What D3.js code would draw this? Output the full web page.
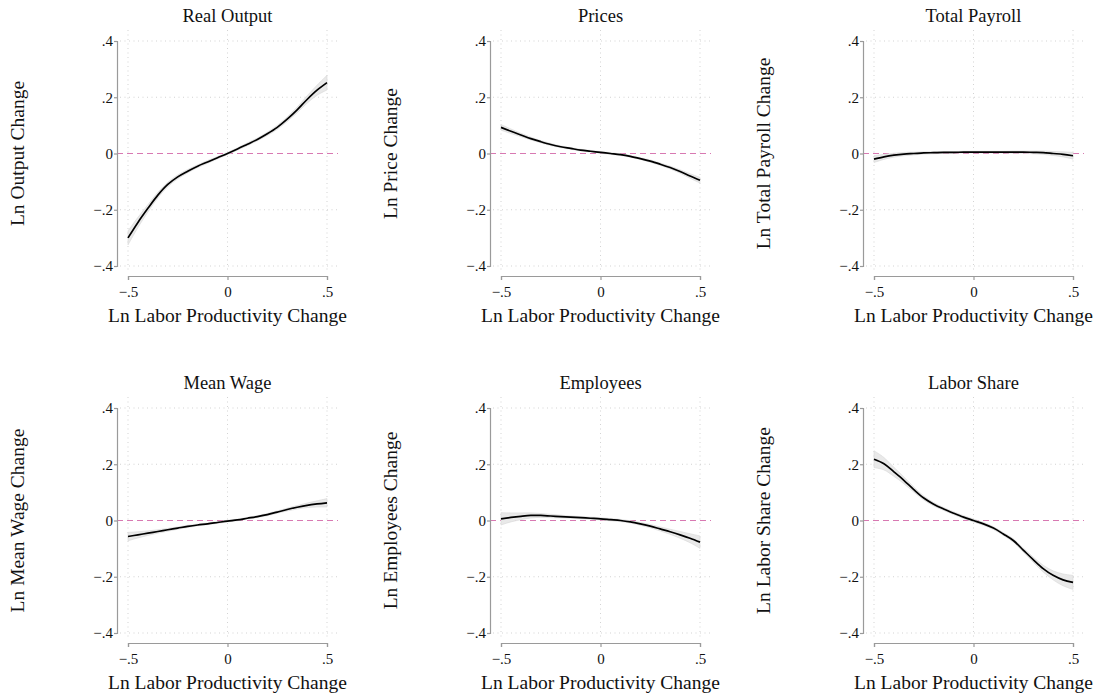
<!DOCTYPE html>
<html>
<head>
<meta charset="utf-8">
<script src="https://cdn.jsdelivr.net/npm/d3@7"></script>
<style>
  body { margin: 0; background: #fff; }
  svg text { font-family: "Liberation Serif", serif; fill: #111; }
</style>
</head>
<body>
<div id="chart"></div>
<script>
var xVals = [-0.5, -0.45, -0.4, -0.35, -0.3, -0.25, -0.2, -0.15, -0.1, -0.05, 0,
             0.05, 0.1, 0.15, 0.2, 0.25, 0.3, 0.35, 0.4, 0.45, 0.5];
var xTicks = [-0.5, 0, 0.5];
var yTicks = [-0.4, -0.2, 0, 0.2, 0.4];

var titles = ["Real Output", "Prices", "Total Payroll", "Mean Wage", "Employees", "Labor Share"];
var yLabels = ["Ln Output Change", "Ln Price Change", "Ln Total Payroll Change",
               "Ln Mean Wage Change", "Ln Employees Change", "Ln Labor Share Change"];
var xLabel = "Ln Labor Productivity Change";

// fitted values
var outputFit  = [-0.300, -0.245, -0.195, -0.148, -0.110, -0.083, -0.063, -0.045, -0.030, -0.015, 0.000,
                  0.016, 0.033, 0.050, 0.070, 0.093, 0.122, 0.155, 0.192, 0.225, 0.252];
var priceFit   = [0.093, 0.079, 0.066, 0.053, 0.042, 0.032, 0.024, 0.018, 0.012, 0.008, 0.004,
                  0.000, -0.004, -0.010, -0.018, -0.027, -0.038, -0.050, -0.064, -0.080, -0.095];
var payrollFit = [-0.020, -0.012, -0.006, -0.002, 0.000, 0.002, 0.003, 0.004, 0.004, 0.005, 0.005,
                  0.005, 0.005, 0.005, 0.005, 0.005, 0.004, 0.003, 0.000, -0.003, -0.008];
var wageFit    = [-0.057, -0.051, -0.045, -0.039, -0.033, -0.027, -0.021, -0.016, -0.012, -0.007, -0.002,
                  0.002, 0.008, 0.014, 0.021, 0.030, 0.039, 0.047, 0.054, 0.059, 0.063];
var emplFit    = [0.006, 0.011, 0.015, 0.018, 0.018, 0.016, 0.014, 0.012, 0.010, 0.008, 0.006,
                  0.003, 0.000, -0.005, -0.012, -0.020, -0.030, -0.040, -0.051, -0.063, -0.077];
var shareFit   = [0.218, 0.202, 0.173, 0.143, 0.110, 0.080, 0.058, 0.041, 0.026, 0.012, 0.000,
                  -0.012, -0.027, -0.048, -0.071, -0.105, -0.139, -0.171, -0.195, -0.211, -0.220];

// half-widths of the confidence bands
var outputCI  = [0.025, 0.018, 0.013, 0.010, 0.008, 0.007, 0.006, 0.005, 0.005, 0.004, 0.004,
                 0.004, 0.005, 0.005, 0.006, 0.007, 0.008, 0.010, 0.013, 0.018, 0.026];
var priceCI   = [0.010, 0.008, 0.006, 0.005, 0.004, 0.004, 0.003, 0.003, 0.003, 0.003, 0.003,
                 0.003, 0.003, 0.003, 0.003, 0.004, 0.004, 0.005, 0.006, 0.008, 0.010];
var payrollCI = [0.012, 0.009, 0.007, 0.006, 0.005, 0.004, 0.004, 0.003, 0.003, 0.003, 0.003,
                 0.003, 0.003, 0.003, 0.004, 0.004, 0.005, 0.006, 0.007, 0.009, 0.012];
var wageCI    = [0.015, 0.011, 0.008, 0.006, 0.005, 0.004, 0.004, 0.003, 0.003, 0.003, 0.003,
                 0.003, 0.003, 0.003, 0.004, 0.004, 0.005, 0.006, 0.008, 0.011, 0.015];
var emplCI    = [0.022, 0.016, 0.012, 0.009, 0.007, 0.006, 0.005, 0.004, 0.004, 0.004, 0.004,
                 0.004, 0.004, 0.004, 0.005, 0.006, 0.007, 0.009, 0.012, 0.016, 0.022];
var shareCI   = [0.030, 0.022, 0.016, 0.012, 0.009, 0.007, 0.006, 0.005, 0.005, 0.005, 0.005,
                 0.005, 0.005, 0.005, 0.006, 0.007, 0.009, 0.012, 0.016, 0.021, 0.025];

var fits = [outputFit, priceFit, payrollFit, wageFit, emplFit, shareFit];
var cis = [outputCI, priceCI, payrollCI, wageCI, emplCI, shareCI];

var W = 1098, H = 696;
var colX = [128, 501, 874];   // left end of x range in each column
var rowY = [41, 408];          // top of y range in each row
var pw = 199, ph = 225;

var svg = d3.select("#chart").append("svg")
    .attr("width", W)
    .attr("height", H);

function fmt(v) {
    if (v === 0) return "0";
    var s = String(Math.abs(v)).replace(/^0/, "");
    return (v < 0 ? "\u2212" : "") + s;
}

fits.forEach(function(fit, i) {
    var ci = cis[i];
    var x0 = colX[i % 3], y0 = rowY[Math.floor(i / 3)];

    var x = d3.scaleLinear().domain([-0.5, 0.5]).range([x0, x0 + pw]);
    var y = d3.scaleLinear().domain([-0.4, 0.4]).range([y0 + ph, y0]);

    var g = svg.append("g");

    // grid (zero line is drawn separately)
    g.selectAll(".hg").data(yTicks.filter(d => d !== 0)).enter().append("line")
        .attr("x1", x0 - 8).attr("x2", x0 + pw + 11)
        .attr("y1", d => y(d)).attr("y2", d => y(d))
        .attr("stroke", "#c8c8c8").attr("stroke-width", 0.8)
        .attr("stroke-dasharray", "1,3.5");
    g.selectAll(".vg").data(xTicks).enter().append("line")
        .attr("x1", d => x(d)).attr("x2", d => x(d))
        .attr("y1", y0 - 11).attr("y2", y0 + ph + 4)
        .attr("stroke", "#c8c8c8").attr("stroke-width", 0.8)
        .attr("stroke-dasharray", "1,3.5");

    // zero reference line
    g.append("line")
        .attr("x1", x0 - 11).attr("x2", x0 + pw + 11)
        .attr("y1", y(0)).attr("y2", y(0))
        .attr("stroke", "#d879b2").attr("stroke-width", 1.2)
        .attr("stroke-dasharray", "6,4");

    var pts = xVals.map((v, k) => ({x: v, y: fit[k], lo: fit[k] - ci[k], hi: fit[k] + ci[k]}));

    g.append("path").datum(pts)
        .attr("fill", "#e9e9e9")
        .attr("stroke", "#d6d6d6").attr("stroke-width", 0.6)
        .attr("d", d3.area().curve(d3.curveCatmullRom)
            .x(d => x(d.x)).y0(d => y(d.lo)).y1(d => y(d.hi)));

    g.append("path").datum(pts)
        .attr("fill", "none")
        .attr("stroke", "#000").attr("stroke-width", 1.7)
        .attr("d", d3.line().curve(d3.curveCatmullRom)
            .x(d => x(d.x)).y(d => y(d.y)));

    // axes
    var ax = g.append("g").attr("transform", "translate(" + (x0 - 11) + ",0)")
        .call(d3.axisLeft(y).tickValues(yTicks).tickFormat(fmt).tickSize(3).tickPadding(1));
    var bx = g.append("g").attr("transform", "translate(0," + (y0 + ph + 10) + ")")
        .call(d3.axisBottom(x).tickValues(xTicks).tickFormat(fmt).tickSize(4).tickPadding(6));
    [ax, bx].forEach(function(a) {
        a.attr("font-size", 15).attr("font-family", "Liberation Serif");
        a.select(".domain").attr("stroke", "#9a9a9a").attr("stroke-width", 1.2);
        a.selectAll(".tick line").attr("stroke", "#9a9a9a").attr("stroke-width", 1.2);
        a.selectAll("text").attr("font-size", 15).attr("fill", "#111");
    });

    // texts
    g.append("text")
        .attr("x", x(0)).attr("y", y0 - 19.5)
        .attr("text-anchor", "middle").attr("font-size", 18.5)
        .text(titles[i]);
    g.append("text")
        .attr("x", x(0)).attr("y", y0 + 281)
        .attr("text-anchor", "middle").attr("font-size", 19.5)
        .text(xLabel);
    g.append("text")
        .attr("transform", "translate(" + (x0 - 104) + "," + y(0) + ") rotate(-90)")
        .attr("text-anchor", "middle").attr("font-size", 19.5)
        .text(yLabels[i]);
});
</script>
</body>
</html>
